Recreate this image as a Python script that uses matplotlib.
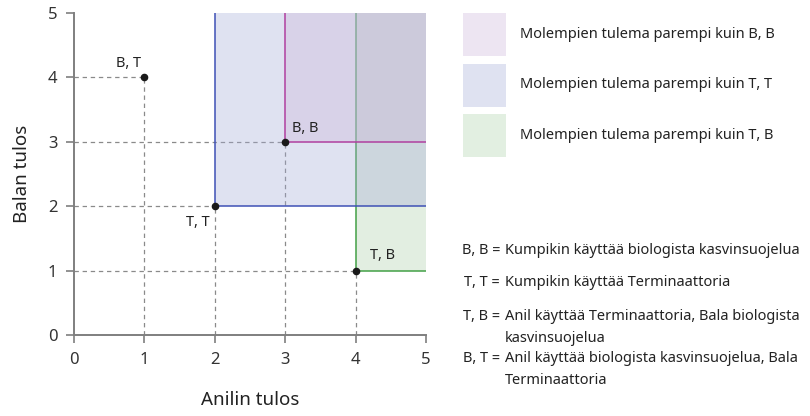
import matplotlib
matplotlib.use("Agg")
import matplotlib.pyplot as plt
from matplotlib.patches import Rectangle

plt.rcParams['font.family'] = ['Noto Sans', 'DejaVu Sans']

# Data
outcome_labels = ["B, T", "T, T", "B, B", "T, B"]
anil_payoff = [1, 2, 3, 4]
bala_payoff = [4, 2, 3, 1]
ticks = [0, 1, 2, 3, 4, 5]
xlabel = "Anilin tulos"
ylabel = "Balan tulos"

# regions "better for both than X": (corner outcome index)
region_outcomes = ["T, B", "T, T", "B, B"]
region_colors = ["#acd1a9", "#a4acd7", "#ccb5da"]
line_colors = ["#43a047", "#3f51b5", "#b0409f"]
legend_texts = ["Molempien tulema parempi kuin B, B",
                "Molempien tulema parempi kuin T, T",
                "Molempien tulema parempi kuin T, B"]
legend_swatch = ["#ede5f2", "#dfe2f1", "#e2efe1"]

note_keys = ["B, B =", "T, T =", "T, B =", "B, T ="]
note_texts = ["Kumpikin käyttää biologista kasvinsuojelua",
              "Kumpikin käyttää Terminaattoria",
              "Anil käyttää Terminaattoria, Bala biologista\nkasvinsuojelua",
              "Anil käyttää biologista kasvinsuojelua, Bala\nTerminaattoria"]

W, H = 810, 416
fig = plt.figure(figsize=(W / 100, H / 100), dpi=100)
ax = fig.add_axes([74 / W, 1 - 335 / H, (426 - 74) / W, (335 - 13) / H])
ax.set_xlim(0, 5)
ax.set_ylim(0, 5)

# dashed guides
for x, y in zip(anil_payoff, bala_payoff):
    ax.plot([0, x], [y, y], ls=(0, (3.5, 3)), color="#8a8a8a", lw=0.9, zorder=1)
    ax.plot([x, x], [0, y], ls=(0, (3.5, 3)), color="#8a8a8a", lw=0.9, zorder=1)

# regions
z = 2
for name, fc, lc in zip(region_outcomes, region_colors, line_colors):
    i = outcome_labels.index(name)
    x0, y0 = anil_payoff[i], bala_payoff[i]
    ax.add_patch(Rectangle((x0, y0), 5 - x0, 5 - y0, facecolor=fc, alpha=0.35,
                           edgecolor="none", zorder=z))
    ax.plot([x0, x0, 5], [5, y0, y0], color=lc, lw=1.1, zorder=z + 0.5,
            solid_joinstyle="miter")
    z += 1

# points
ax.scatter(anil_payoff, bala_payoff, s=20, color="#1a1a1a", zorder=10)

# point labels
lab_pos = {"B, T": (0.95, 4.1, "right", "bottom"),
           "T, T": (1.93, 1.75, "right", "center"),
           "B, B": (3.1, 3.2, "left", "center"),
           "T, B": (4.2, 1.23, "left", "center")}
for name in outcome_labels:
    px, py, ha, va = lab_pos[name]
    ax.text(px, py, name, ha=ha, va=va, fontsize=10.5, color="#222222", zorder=11)

# axes styling
for s in ["top", "right"]:
    ax.spines[s].set_visible(False)
for s in ["left", "bottom"]:
    ax.spines[s].set_color("#7f7f7f")
    ax.spines[s].set_linewidth(1.4)
ax.set_xticks(ticks)
ax.set_yticks(ticks)
ax.tick_params(axis="both", length=6, width=1.2, color="#7f7f7f",
               labelsize=12, labelcolor="#333333", pad=6)
ax.set_xlabel(xlabel, fontsize=13.5, color="#222222", labelpad=17)
ax.set_ylabel(ylabel, fontsize=13.5, color="#222222", labelpad=12)

# legend (manual)
for k, (txt, col) in enumerate(zip(legend_texts, legend_swatch)):
    top = 13 + k * 50.5
    fig.patches.append(Rectangle((463 / W, 1 - (top + 43) / H), 43 / W, 43 / H,
                                 transform=fig.transFigure, facecolor=col,
                                 edgecolor="none"))
    fig.text(520 / W, 1 - (top + 21.5) / H, txt, ha="left", va="center",
             fontsize=10.5, color="#222222")

# notes
note_y = [250, 282, 316, 358]
for key, txt, yy in zip(note_keys, note_texts, note_y):
    fig.text(500 / W, 1 - yy / H, key, ha="right", va="center", fontsize=10.5,
             color="#222222")
    lines = txt.split("\n")
    for j, ln in enumerate(lines):
        fig.text(505 / W, 1 - (yy + j * 22) / H, ln, ha="left", va="center",
                 fontsize=10.5, color="#222222")

fig.savefig("out.png", dpi=100)
